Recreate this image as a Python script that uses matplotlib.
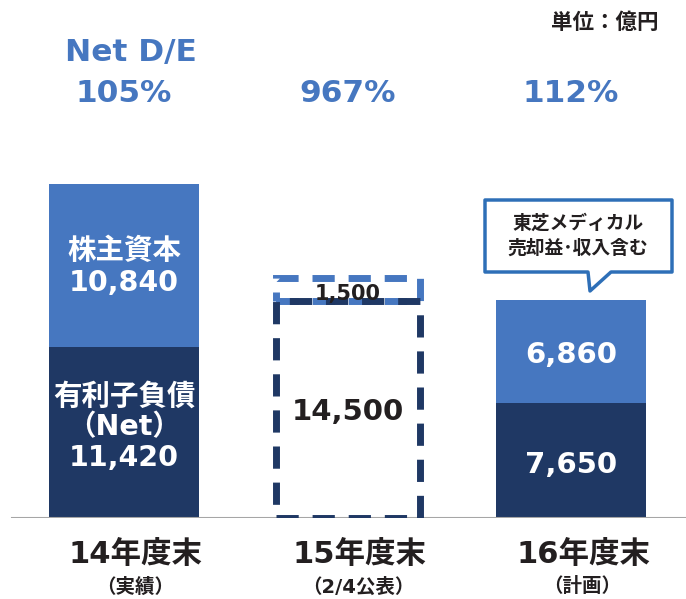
import matplotlib
matplotlib.use('Agg')
import matplotlib.pyplot as plt
from matplotlib.patches import PathPatch
from matplotlib.path import Path

plt.rcParams['font.family'] = ['DejaVu Sans', 'Noto Sans CJK JP']
plt.rcParams['font.weight'] = 'bold'

# data (億円)
periods = ['14年度末', '15年度末', '16年度末']
period_notes = ['（実績）', '（2/4公表）', '（計画）']
debt = [11420, 14500, 7650]
equity = [10840, 1500, 6860]
net_de = ['105%', '967%', '112%']
debt_labels = ['有利子負債\n（Net）\n11,420', '14,500', '7,650']
equity_labels = ['株主資本\n10,840', '1,500', '6,860']

DARK = '#1f3864'
BLUE = '#4677c0'
INK = '#231f20'
W, H = 686, 599

fig = plt.figure(figsize=(W / 100, H / 100), dpi=100)
base_px = 518
scale = 0.015  # px per 億円
ax = fig.add_axes([0, (H - base_px) / H, 1, base_px / H])
unit = 223.5
ax.set_xlim(-124 / unit, (W - 124) / unit)
ax.set_ylim(0, base_px / scale)
ax.axis('off')

bw = 150 / unit
for i in (0, 2):
    ax.bar(i, debt[i], bw, color=DARK)
    ax.bar(i, equity[i], bw, bottom=debt[i], color=BLUE)

# 15年度末: dashed outline boxes
ax.bar(1, debt[1], 144 / unit, facecolor='none', edgecolor=DARK,
       linewidth=5, linestyle=(0, (3.2, 2.0)), zorder=3)
ax.bar(1, equity[1], 144 / unit, bottom=debt[1], facecolor='none',
       edgecolor=BLUE, linewidth=5, linestyle=(0, (3.2, 2.0)), zorder=2)

ax.axhline(0, xmin=12 / W, xmax=1, color='#a6a6a6', linewidth=1.5, zorder=1)

# labels inside bars
ax.text(0, debt[0] / 2 + 350, debt_labels[0], ha='center', va='center',
        color='white', fontsize=20.5, linespacing=1.12)
ax.text(0, debt[0] + equity[0] / 2 - 100, equity_labels[0], ha='center',
        va='center', color='white', fontsize=20.5, linespacing=1.2)
ax.text(1, debt[1] * 0.5 - 180, debt_labels[1], ha='center', va='center',
        color=INK, fontsize=21)
ax.text(1, debt[1] + equity[1] / 2 - 300, equity_labels[1], ha='center',
        va='center', color=INK, fontsize=15)
ax.text(2, debt[2] / 2 - 300, debt_labels[2], ha='center', va='center',
        color='white', fontsize=21)
ax.text(2, debt[2] + equity[2] / 2 - 200, equity_labels[2], ha='center',
        va='center', color='white', fontsize=21)

# category labels
for i, (p, n) in enumerate(zip(periods, period_notes)):
    cx = (136 + i * unit) / W
    fig.text(cx, 1 - 554 / H, p, ha='center', va='center',
             fontsize=22, color=INK)
    fig.text(cx - 1 / W, 1 - 587 / H, n, ha='center', va='center',
             fontsize=14, color=INK)

# Net D/E
fig.text(131 / W, 1 - 53 / H, 'Net D/E', ha='center', va='center',
         fontsize=22.5, color=BLUE)
for i, v in enumerate(net_de):
    fig.text((124 + i * unit) / W, 1 - 93 / H, v, ha='center', va='center',
             fontsize=22.5, color=BLUE)

fig.text(659 / W, 1 - 23 / H, '単位：億円', ha='right', va='center',
         fontsize=15.5, color=INK)

# callout
def px(x, y):
    return (x / W, 1 - y / H)

pts = [(485, 200), (672, 200), (672, 272), (611, 272), (590, 291),
       (588, 272), (485, 272), (485, 200)]
verts = [px(*p) for p in pts]
codes = [Path.MOVETO] + [Path.LINETO] * (len(verts) - 2) + [Path.CLOSEPOLY]
fig.patches.append(PathPatch(Path(verts, codes), facecolor='white',
                             edgecolor='#2e6fb7', linewidth=2.5,
                             joinstyle='round', transform=fig.transFigure))
fig.text(578 / W, 1 - 236 / H, '東芝メディカル\n売却益･収入含む', ha='center',
         va='center', fontsize=13.5, color=INK, linespacing=1.4)

fig.savefig('out.png', dpi=100)
